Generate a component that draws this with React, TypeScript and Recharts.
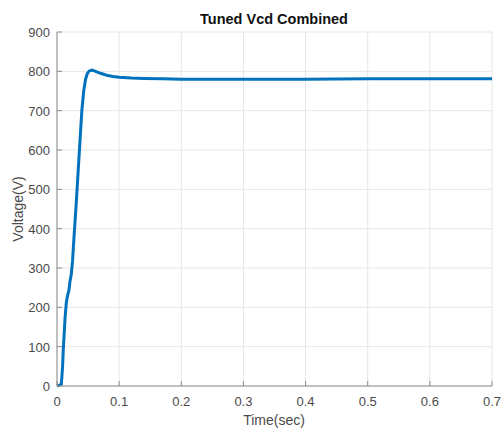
import React from 'react'
import { LineChart, Line, XAxis, YAxis, CartesianGrid } from 'recharts'

const timeSec = [0, 0.004, 0.007, 0.009, 0.010, 0.013, 0.015, 0.017, 0.019, 0.021, 0.023, 0.025, 0.028, 0.031, 0.034, 0.037, 0.040, 0.043, 0.046, 0.049, 0.052, 0.056, 0.060, 0.065, 0.070, 0.080, 0.090, 0.100, 0.120, 0.140, 0.170, 0.200, 0.300, 0.400, 0.500, 0.600, 0.700]
const voltage = [0, 2, 5, 50, 89, 174, 212, 230, 242, 267, 284, 318, 394, 465, 545, 623, 700, 750, 780, 795, 801, 803, 801, 798, 795, 790, 787, 785, 783, 782, 781, 780, 780, 780, 781, 781, 781]

const xTicks = [0, 0.1, 0.2, 0.3, 0.4, 0.5, 0.6, 0.7]
const yTicks = [0, 100, 200, 300, 400, 500, 600, 700, 800, 900]

const data = timeSec.map((t, i) => ({ t, v: voltage[i] }))

const FONT = '"Liberation Sans", Arial, sans-serif'
const AXIS = '#8c8c8c'
const LABEL = '#4a4a4a'

const BottomTick = (p: any) => (
  <g>
    <line x1={p.x} x2={p.x} y1={p.y} y2={p.y - 5} stroke={AXIS} />
    <text x={p.x} y={p.y + 20} textAnchor="middle" fill={LABEL} fontSize={13} fontFamily={FONT}>
      {p.payload.value}
    </text>
  </g>
)
const LeftTick = (p: any) => (
  <g>
    <line x1={p.x} x2={p.x + 5} y1={p.y} y2={p.y} stroke={AXIS} />
    <text x={p.x - 7} y={p.y + 5} textAnchor="end" fill={LABEL} fontSize={13} fontFamily={FONT}>
      {p.payload.value}
    </text>
  </g>
)
const TopTick = (p: any) => <line x1={p.x} x2={p.x} y1={p.y} y2={p.y + 5} stroke={AXIS} />
const RightTick = (p: any) => <line x1={p.x} x2={p.x - 5} y1={p.y} y2={p.y} stroke={AXIS} />

export default function App() {
  return (
    <div style={{ position: 'absolute', left: 0, top: 0, width: 502, height: 430, background: '#fff', fontFamily: FONT }}>
      <div style={{ position: 'absolute', left: 57, width: 434, top: 11, textAlign: 'center', fontWeight: 'bold', fontSize: 14.5, color: '#111' }}>
        Tuned Vcd Combined
      </div>
      <div style={{ position: 'absolute', left: 0, top: 209, transform: 'translate(-50%, -50%) rotate(-90deg)', marginLeft: 17.5, fontSize: 14, color: LABEL, whiteSpace: 'nowrap' }}>
        Voltage(V)
      </div>
      <div style={{ position: 'absolute', left: 57, width: 434, top: 412, textAlign: 'center', fontSize: 14, color: LABEL }}>
        Time(sec)
      </div>
      <LineChart width={502} height={430} data={data} margin={{ top: 32, right: 10, bottom: 0, left: 0 }}>
        <CartesianGrid stroke="#e6e6e6" horizontal vertical />
        <XAxis
          dataKey="t"
          type="number"
          domain={[0, 0.7]}
          ticks={xTicks}
          interval={0}
          allowDataOverflow
          height={44}
          tickSize={0}
          tickMargin={0}
          tick={BottomTick}
          stroke={AXIS}
        />
        <XAxis xAxisId="top" orientation="top" dataKey="t" type="number" domain={[0, 0.7]} ticks={xTicks} interval={0} height={0} tickSize={0} tickMargin={0} tick={TopTick} stroke={AXIS} />
        <YAxis
          type="number"
          domain={[0, 900]}
          ticks={yTicks}
          interval={0}
          width={57}
          tickSize={0}
          tickMargin={0}
          tick={LeftTick}
          stroke={AXIS}
        />
        <YAxis yAxisId="right" orientation="right" type="number" domain={[0, 900]} ticks={yTicks} interval={0} width={0} tickSize={0} tickMargin={0} tick={RightTick} stroke={AXIS} />
        <Line dataKey="v" type="linear" stroke="#0072BD" strokeWidth={3} dot={false} isAnimationActive={false} />
      </LineChart>
    </div>
  )
}
